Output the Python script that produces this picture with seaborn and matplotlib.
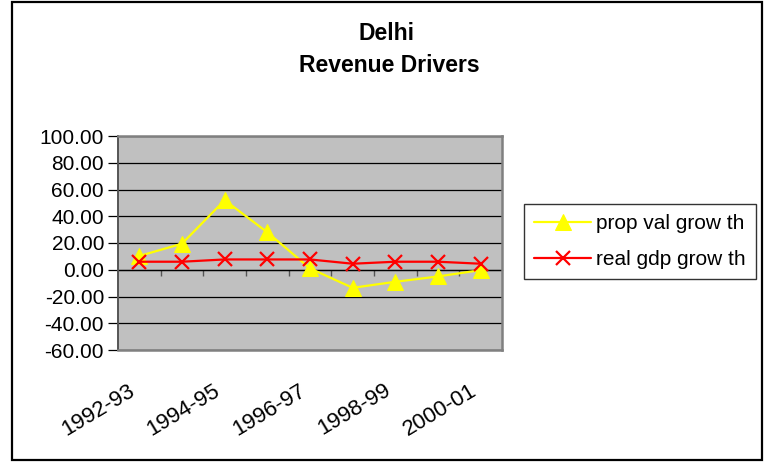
import pandas as pd
import matplotlib
matplotlib.use("Agg")
import matplotlib.pyplot as plt
import matplotlib.transforms as mtransforms
from matplotlib.patches import Rectangle
from matplotlib.ticker import FormatStrFormatter, FixedLocator
import seaborn as sns

# Data
years = ["1992-93", "1993-94", "1994-95", "1995-96", "1996-97",
         "1997-98", "1998-99", "1999-00", "2000-01"]
prop_val_growth = [10.3, 19.5, 52.0, 28.0, 1.0, -13.5, -9.0, -5.0, -0.3]
real_gdp_growth = [6.0, 6.0, 7.7, 7.7, 7.7, 4.5, 6.0, 6.0, 4.5]

df_prop = pd.DataFrame({"Year": years, "Value": prop_val_growth})
df_gdp = pd.DataFrame({"Year": years, "Value": real_gdp_growth})

sns.set_style("white")
plt.rcParams["font.family"] = ["Liberation Sans", "DejaVu Sans"]
plt.rcParams["text.color"] = "black"
plt.rcParams["xtick.color"] = "black"
plt.rcParams["ytick.color"] = "black"

fig = plt.figure(figsize=(7.68, 4.62), dpi=100)
ax = fig.add_axes([118 / 768, 1 - 350 / 462, 384 / 768, 214 / 462])
ax.set_facecolor("#C0C0C0")

sns.lineplot(data=df_prop, x="Year", y="Value", color="#FFFF00", linewidth=1.6,
             marker="^", markersize=12, markeredgecolor="#FFFF00",
             label="prop val grow th", ax=ax, sort=False)
sns.lineplot(data=df_gdp, x="Year", y="Value", color="#FF0000", linewidth=1.6,
             marker="x", markersize=10, markeredgewidth=1.6,
             markeredgecolor="#FF0000", label="real gdp grow th", ax=ax, sort=False)

ax.set_ylim(-60, 100)
ax.set_xlim(-0.5, len(years) - 0.5)
ax.set_yticks(range(-60, 101, 20))
ax.yaxis.set_major_formatter(FormatStrFormatter("%.2f"))
ax.yaxis.grid(True, color="black", linewidth=0.9)
ax.set_axisbelow(True)
ax.tick_params(axis="y", left=True, length=7, width=0.9, color="black",
               labelsize=15, pad=3)

ax.set_xticks(range(0, len(years), 2))
ax.set_xticklabels(years[::2], rotation=31, ha="right", va="center",
                   rotation_mode="anchor", fontsize=16)
ax.tick_params(axis="x", bottom=True, length=0, pad=28)
offset = mtransforms.ScaledTranslation(-6 / 100, 0, fig.dpi_scale_trans)
for lbl in ax.get_xticklabels():
    lbl.set_transform(lbl.get_transform() + offset)

# zero axis with ticks between categories
sec = ax.secondary_xaxis(60 / 160)
sec.xaxis.set_major_locator(FixedLocator([i + 0.5 for i in range(len(years) - 1)]))
sec.tick_params(axis="x", direction="out", length=4, width=1, color="#555555",
                labelbottom=False, labeltop=False)
sec.spines["bottom"].set_color("black")
sec.spines["bottom"].set_linewidth(0.9)

ax.set_xlabel("")
ax.set_ylabel("")

for side in ["top", "right", "bottom"]:
    ax.spines[side].set_color("#808080")
    ax.spines[side].set_linewidth(1.8)
ax.spines["left"].set_color("#555555")
ax.spines["left"].set_linewidth(1.4)

leg = ax.legend(loc="upper left", bbox_to_anchor=(524 / 768, 1 - 204 / 462),
                bbox_transform=fig.transFigure, fontsize=15, frameon=True,
                fancybox=False, handlelength=2.7, borderpad=0.5,
                labelspacing=0.8, handletextpad=0.25, borderaxespad=0)
leg.get_frame().set_edgecolor("black")
leg.get_frame().set_linewidth(1.0)

fig.text(386 / 768, 1 - 33 / 462, "Delhi", ha="center", va="center",
         fontsize=16.5, fontweight="bold")
fig.text(389 / 768, 1 - 66 / 462, "Revenue Drivers", ha="center", va="center",
         fontsize=16.5, fontweight="bold")

fig.patches.append(Rectangle((12 / 768, 1 - 460 / 462), 750 / 768, 458 / 462,
                             transform=fig.transFigure, fill=False,
                             edgecolor="black", linewidth=1.6))

fig.savefig("out.png", dpi=100)
